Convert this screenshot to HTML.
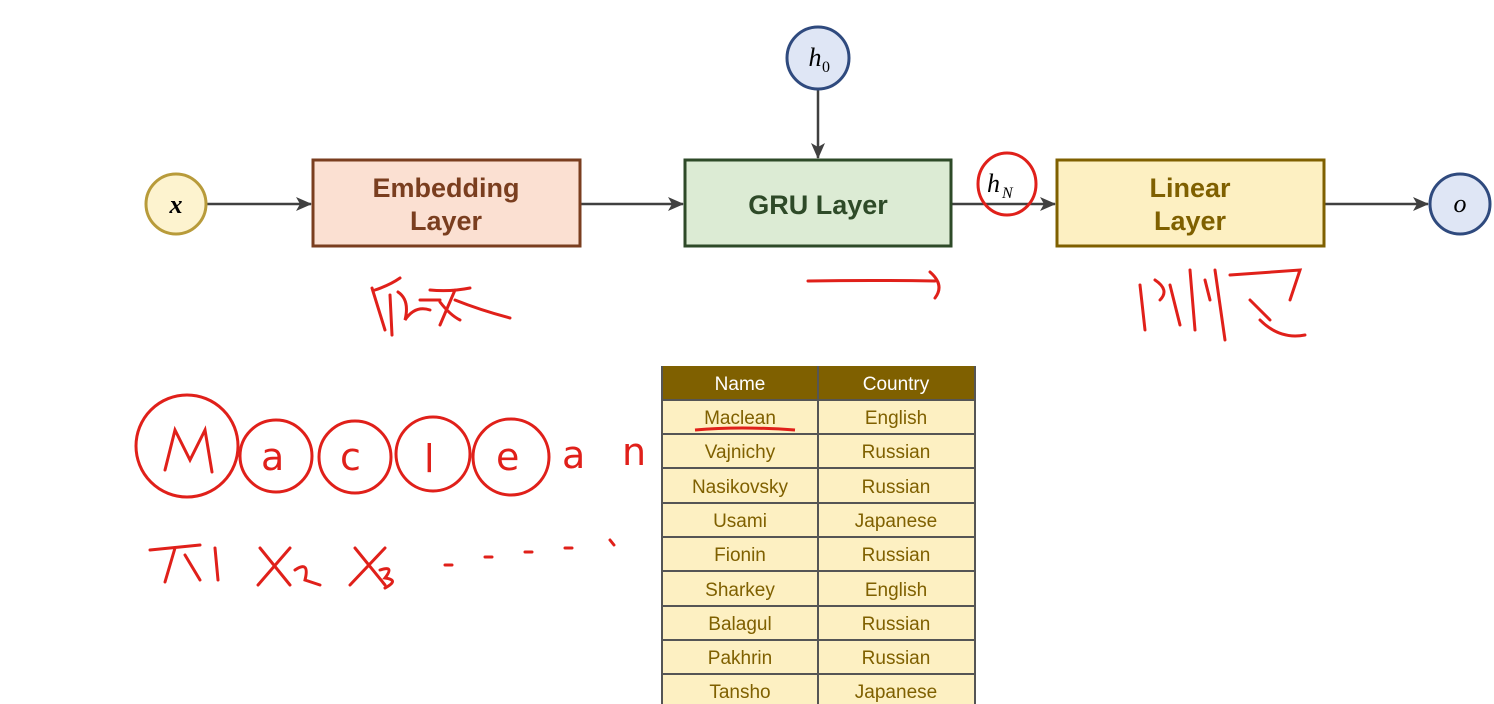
<!DOCTYPE html>
<html><head><meta charset="utf-8"><style>
html,body{margin:0;padding:0;background:#fff;}
svg{display:block}
</style></head><body>
<svg width="1494" height="704" viewBox="0 0 1494 704" xmlns="http://www.w3.org/2000/svg" font-family="Liberation Sans, sans-serif">
<defs><marker id="a" markerWidth="16" markerHeight="14" refX="15" refY="7" orient="auto" markerUnits="userSpaceOnUse"><path d="M0,0 L16,7 L0,14 L4,7 Z" fill="#404040"/></marker></defs>
<rect x="0" y="0" width="1494" height="704" fill="#fff"/>
<g stroke="#404040" stroke-width="2.5" fill="none">
<line x1="206" y1="204" x2="311" y2="204" marker-end="url(#a)"/>
<line x1="580" y1="204" x2="683" y2="204" marker-end="url(#a)"/>
<line x1="951" y1="204" x2="1055" y2="204" marker-end="url(#a)"/>
<line x1="1324" y1="204" x2="1428" y2="204" marker-end="url(#a)"/>
<line x1="818" y1="89" x2="818" y2="158" marker-end="url(#a)"/>
</g>
<circle cx="176" cy="204" r="30" fill="#fdf3cf" stroke="#b89b3a" stroke-width="3"/>
<text x="176" y="213" font-family="Liberation Serif, serif" font-style="italic" font-weight="bold" font-size="26" text-anchor="middle">x</text>
<circle cx="818" cy="58" r="31" fill="#dfe6f5" stroke="#2f4a7e" stroke-width="3"/>
<text x="815" y="66" font-family="Liberation Serif, serif" font-style="italic" font-size="26" text-anchor="middle">h</text><text x="822" y="72" font-family="Liberation Serif, serif" font-size="16">0</text>
<circle cx="1460" cy="204" r="30" fill="#dfe6f5" stroke="#2f4a7e" stroke-width="3"/>
<text x="1460" y="212" font-family="Liberation Serif, serif" font-style="italic" font-size="26" text-anchor="middle">o</text>
<rect x="313" y="160" width="267" height="86" fill="#fbe0d2" stroke="#7a3e1f" stroke-width="3"/>
<text x="446" y="197" font-size="27" font-weight="bold" fill="#7a3e1f" text-anchor="middle">Embedding</text>
<text x="446" y="230" font-size="27" font-weight="bold" fill="#7a3e1f" text-anchor="middle">Layer</text>
<rect x="685" y="160" width="266" height="86" fill="#dcebd4" stroke="#2e4a28" stroke-width="3"/>
<text x="818" y="214" font-size="27" font-weight="bold" fill="#2e4a28" text-anchor="middle">GRU Layer</text>
<rect x="1057" y="160" width="267" height="86" fill="#fdf0c2" stroke="#7f6000" stroke-width="3"/>
<text x="1190" y="197" font-size="27" font-weight="bold" fill="#7f6000" text-anchor="middle">Linear</text>
<text x="1190" y="230" font-size="27" font-weight="bold" fill="#7f6000" text-anchor="middle">Layer</text>
<text x="987" y="192" font-family="Liberation Serif, serif" font-style="italic" font-size="26">h</text><text x="1002" y="198" font-family="Liberation Serif, serif" font-style="italic" font-size="16">N</text>
<g stroke="#e0201a" stroke-width="3" fill="none" stroke-linecap="round">
<ellipse cx="1007" cy="184" rx="29" ry="31"/>
<path d="M808,281 Q870,280 935,281 M930,272 Q945,285 935,298"/>
<path d="M375,290 Q390,285 400,278 M372,288 L385,330 M390,295 L392,335 M398,292 Q410,300 405,320 Q415,305 430,310 M420,300 L440,300 M440,302 Q450,315 460,320 M430,290 Q450,292 470,288 M455,290 L440,325 M455,300 Q480,310 510,318"/>
<path d="M1140,285 L1145,330 M1155,280 Q1170,290 1160,300 M1170,285 L1180,325 M1190,270 L1195,330 M1205,280 L1210,300 M1215,270 L1225,340 M1230,275 L1300,270 L1290,300 M1250,300 L1270,320 M1260,320 Q1280,340 1305,335"/>
<circle cx="187" cy="446" r="51"/>
<circle cx="276" cy="456" r="36"/>
<circle cx="355" cy="457" r="36"/>
<circle cx="433" cy="454" r="37"/>
<circle cx="511" cy="457" r="38"/>
<path d="M165,470 L175,430 L190,460 L205,430 L212,472"/>
<path d="M150,550 L200,545 M175,548 L165,582 M185,555 L200,580 M215,548 L218,580 M260,548 L290,585 M290,548 L258,585 M295,570 Q310,560 305,580 L320,585 M355,548 L385,585 M385,548 L350,585 M380,570 Q395,565 385,578 Q400,580 385,588 M445,565 L452,565 M485,557 L492,557 M525,552 L532,552 M565,548 L572,548 M610,540 L614,545"/>
</g>
<g fill="#e0201a" font-family="DejaVu Sans, sans-serif" font-size="38">
<text x="261" y="470">a</text><text x="340" y="470">c</text><text x="424" y="472">l</text><text x="496" y="470">e</text><text x="562" y="468">a</text><text x="622" y="465">n</text>
</g>
<g font-size="19" fill="#7f6000" text-anchor="middle">
<rect x="662" y="366" width="313" height="34" fill="#7f6000"/>
<text x="740" y="390" fill="#fff">Name</text><text x="896" y="390" fill="#fff">Country</text>
<rect x="662" y="400" width="313" height="304" fill="#fdf0c2"/>
<g stroke="#555" stroke-width="2">
<line x1="662" y1="366" x2="662" y2="704"/><line x1="975" y1="366" x2="975" y2="704"/><line x1="818" y1="366" x2="818" y2="704"/>
<line x1="662" y1="400" x2="975" y2="400"/><line x1="662" y1="434" x2="975" y2="434"/><line x1="662" y1="468" x2="975" y2="468"/><line x1="662" y1="503" x2="975" y2="503"/><line x1="662" y1="537" x2="975" y2="537"/><line x1="662" y1="571" x2="975" y2="571"/><line x1="662" y1="606" x2="975" y2="606"/><line x1="662" y1="640" x2="975" y2="640"/><line x1="662" y1="674" x2="975" y2="674"/>
</g>
<text x="740" y="424">Maclean</text><text x="896" y="424">English</text>
<text x="740" y="458">Vajnichy</text><text x="896" y="458">Russian</text>
<text x="740" y="493">Nasikovsky</text><text x="896" y="493">Russian</text>
<text x="740" y="527">Usami</text><text x="896" y="527">Japanese</text>
<text x="740" y="561">Fionin</text><text x="896" y="561">Russian</text>
<text x="740" y="596">Sharkey</text><text x="896" y="596">English</text>
<text x="740" y="630">Balagul</text><text x="896" y="630">Russian</text>
<text x="740" y="664">Pakhrin</text><text x="896" y="664">Russian</text>
<text x="740" y="698">Tansho</text><text x="896" y="698">Japanese</text>
</g>
<path d="M695,430 Q740,426 795,430" stroke="#e0201a" stroke-width="3" fill="none"/>
</svg>
</body></html>
